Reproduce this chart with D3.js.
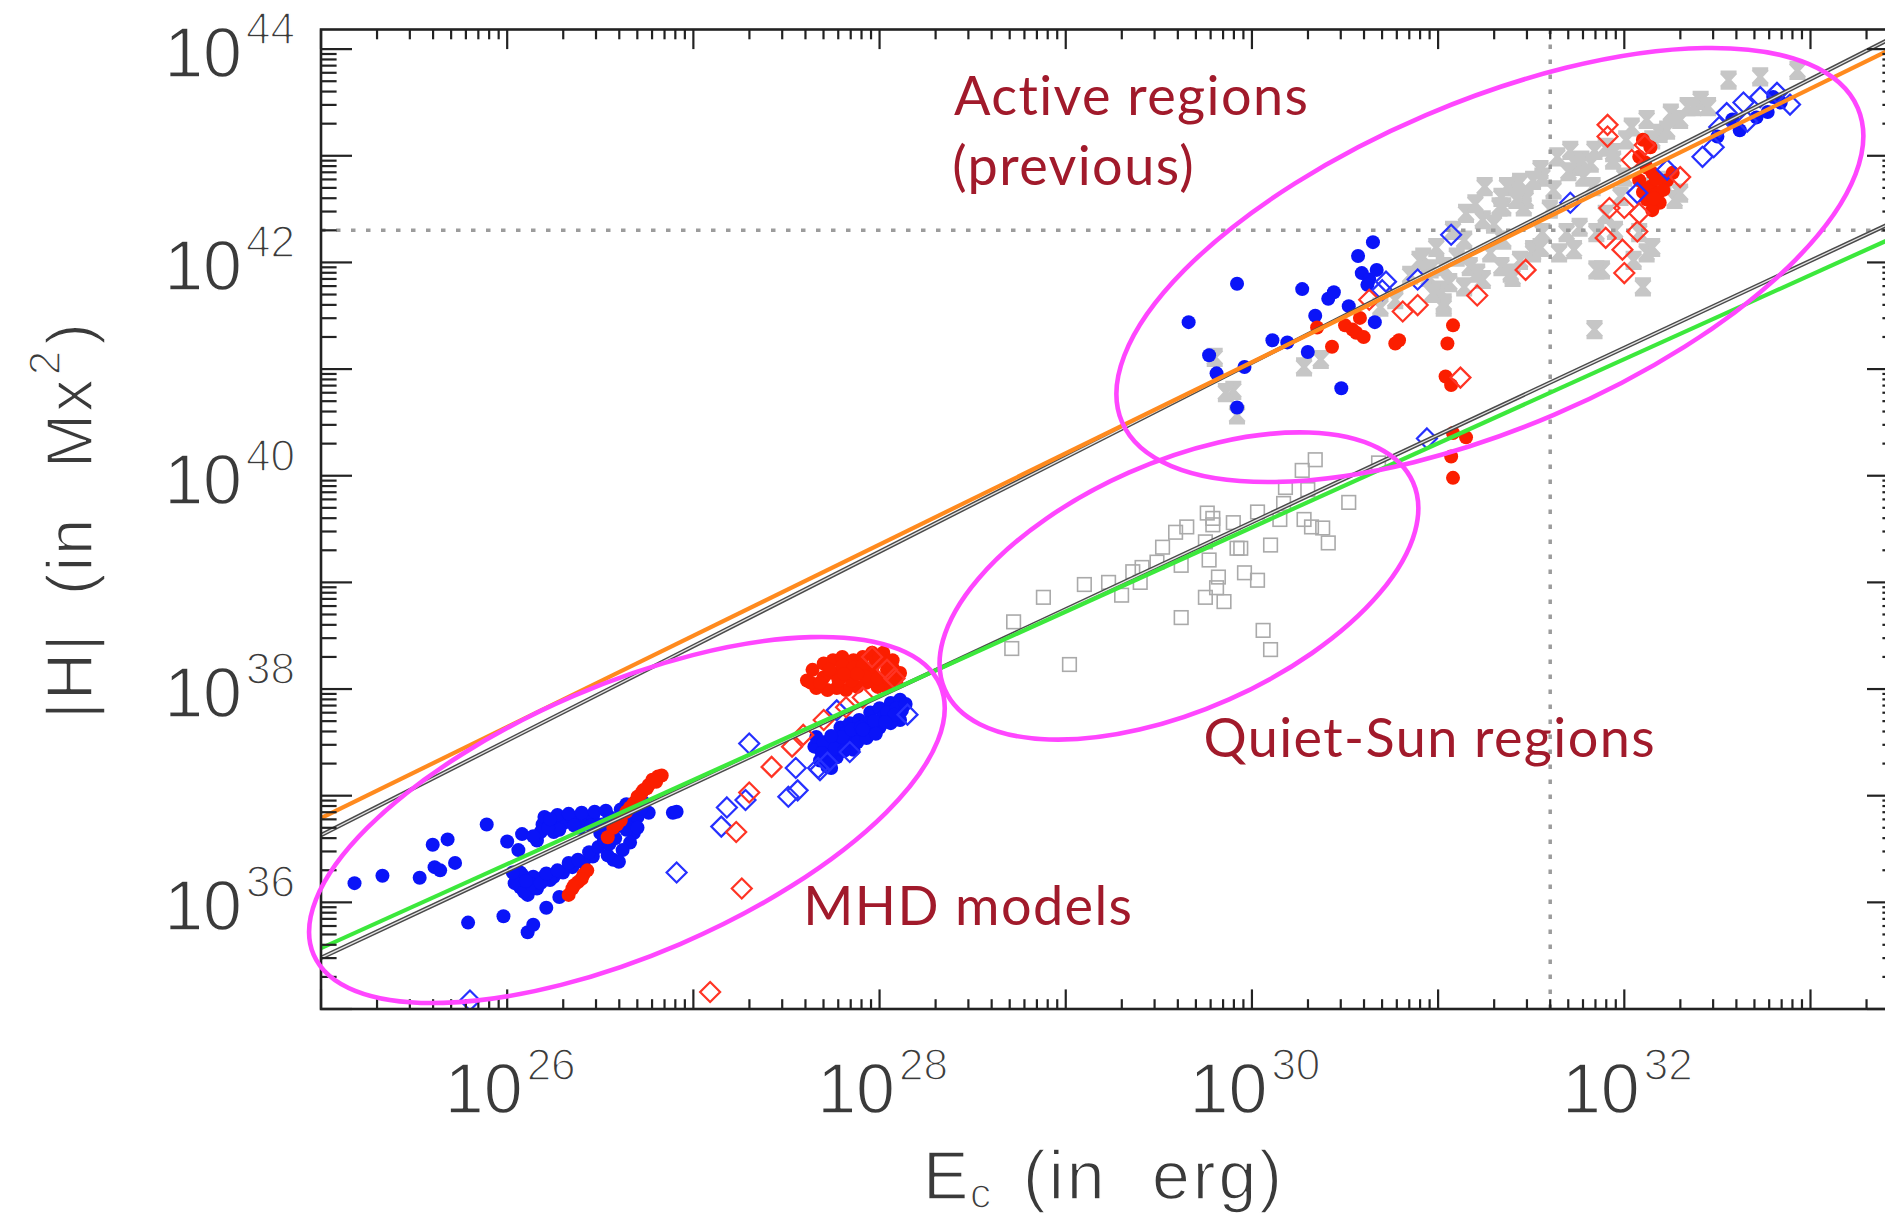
<!DOCTYPE html>
<html>
<head>
<meta charset="utf-8">
<script src="https://cdn.jsdelivr.net/npm/d3@7"></script>
<style>
  html, body { margin: 0; padding: 0; background: #ffffff; }
  svg { display: block; }
</style>
</head>
<body>
<svg id="chart" width="1885" height="1219"></svg>
<script>
// ---------------------------------------------------------------------------
// Magnetic helicity |H| versus free energy E_c.
// All samples are stored as [log10 E_c (erg), log10 |H| (Mx^2)].
// ---------------------------------------------------------------------------

// Axis decades and labelled exponents
const xDecades = [25, 26, 27, 28, 29, 30, 31, 32, 33];
const yDecades = [35, 36, 37, 38, 39, 40, 41, 42, 43, 44];
const xTickExponents = [26, 28, 30, 32];
const yTickExponents = [36, 38, 40, 42, 44];

// Reference levels (dotted guides)
const energyGuide = 4e31;     // erg
const helicityGuide = 2e42;   // Mx^2

// Power-law fits: log|H| = intercept + slope * log E
const fitOrange = { intercept: 15.415, slope: 0.855 };
const fitBlackUpper = { intercept: 14.48, slope: 0.886 };
const fitGreen = { intercept: 15.845, slope: 0.789 };
const fitBlackLower = { intercept: 15.055, slope: 0.817 };

// Filled blue circles (MHD runs + active regions)
const blueDots = [
  [25.18,36.18],[25.33,36.25],[25.53,36.23],[25.60,36.54],[25.68,36.59],[25.61,36.33],[25.64,36.30],
  [25.72,36.37],[25.89,36.73],[25.79,35.81],[25.98,35.87],[26.00,36.57],[26.08,36.64],[26.06,36.49],
  [26.11,35.72],[26.14,35.79],[26.21,35.95],[26.28,36.05],[26.89,36.84],[26.91,36.85],
  [26.16,36.58],[26.19,36.73],[26.25,36.75],[26.30,36.74],[26.35,36.79],[26.41,36.77],[26.46,36.79],
  [26.51,36.73],[26.55,36.80],[26.61,36.87],[26.68,36.93],[26.73,36.94],[26.76,36.84],[26.66,36.77],
  [26.68,36.65],[26.66,36.56],[26.62,36.49],[26.57,36.40],[26.60,36.38],[26.54,36.44],[26.46,36.43],
  [26.41,36.37],[26.35,36.33],[26.30,36.28],[26.25,36.24],[26.19,36.23],[26.14,36.24],[26.08,36.26],
  [26.05,36.23],[26.07,36.14],[26.11,36.07],[26.16,36.13],[26.23,36.21],[26.07,36.28],[26.18,36.66],
  [26.25,36.66],[26.28,36.68],[26.39,36.70],[26.50,36.65],[26.57,36.68],
  [26.04,36.18],[26.09,36.10],[26.13,36.17],[26.18,36.18],[26.10,36.20],[26.03,36.28],[26.21,36.27],
  [26.27,36.30],[26.33,36.37],[26.38,36.40],[26.44,36.47],[26.49,36.52],[26.52,36.58],[26.55,36.55],
  [26.58,36.60],[26.20,36.80],[26.27,36.82],[26.33,36.83],[26.40,36.84],[26.47,36.85],[26.53,36.86],
  [26.22,36.70],[26.36,36.72],[26.45,36.72],[26.60,36.72],[26.64,36.68],[26.70,36.80],[26.72,36.88],
  [26.14,36.62],[26.23,36.78],[26.64,36.92],[26.70,36.70],
  [27.65,37.46],[27.68,37.33],[27.72,37.27],[27.71,37.41],[27.75,37.52],[27.79,37.64],[27.84,37.68],
  [27.89,37.71],[27.95,37.78],[28.00,37.82],[28.06,37.87],[28.11,37.90],[28.12,37.80],[28.11,37.71],
  [28.06,37.68],[28.00,37.64],[27.95,37.60],[27.89,37.57],[27.84,37.52],[27.79,37.48],[27.82,37.59],
  [27.93,37.68],[28.02,37.74],[27.86,37.43],[27.77,37.36],[27.74,37.26],[27.66,37.55],
  [27.70,37.50],[27.73,37.35],[27.76,37.44],[27.80,37.55],[27.85,37.62],[27.90,37.64],[27.97,37.70],
  [28.04,37.78],[28.09,37.82],[27.81,37.42],[27.88,37.50],[27.93,37.54],[27.98,37.58],[28.08,37.76],
  [28.14,37.86],[27.69,37.40],[27.74,37.56],[27.91,37.62],[28.03,37.69],
  [29.66,41.44],[29.92,41.80],[29.77,41.13],[29.81,40.96],[29.96,41.02],[29.92,40.64],[30.11,41.27],
  [30.19,41.25],[30.30,41.16],[30.27,41.75],[30.34,41.50],[30.41,41.66],[30.44,41.72],[30.48,40.82],
  [30.52,41.59],[30.57,42.06],[30.65,42.19],[30.59,41.90],[30.63,41.84],[30.67,41.93],[30.62,41.79],
  [30.66,41.44],
  [32.80,43.55],[32.84,43.50],[32.77,43.41],[32.71,43.36],[32.58,43.34],[32.62,43.24],[32.50,43.18]
];

// Filled red circles
const redDots = [
  [26.33,36.07],[26.35,36.13],[26.38,36.19],[26.41,36.26],[26.43,36.30],[26.54,36.61],[26.57,36.70],
  [26.61,36.77],[26.64,36.85],[26.68,36.93],[26.70,36.99],[26.73,37.05],[26.76,37.10],[26.78,37.15],
  [26.81,37.18],[26.83,37.19],[26.59,36.73],[26.66,36.89],[26.72,37.02],[26.75,37.07],[26.80,37.13],
  [26.36,36.16],[26.40,36.22],
  [27.61,38.08],[27.64,38.18],[27.70,38.24],[27.75,38.27],[27.80,38.30],[27.86,38.27],[27.91,38.30],
  [27.96,38.34],[28.02,38.34],[28.07,38.27],[28.11,38.15],[28.09,38.06],[28.04,38.02],[27.99,38.02],
  [27.93,38.06],[27.88,38.02],[27.82,37.99],[27.77,38.01],[27.72,37.99],[27.66,38.01],[27.63,38.06],
  [27.75,38.15],[27.84,38.15],[27.96,38.18],[28.04,38.18],[27.70,38.11],
  [27.68,38.06],[27.73,38.18],[27.80,38.22],[27.86,38.20],[27.91,38.22],[27.98,38.26],[28.03,38.26],
  [28.07,38.20],[27.78,38.08],[27.85,38.08],[27.92,38.12],[27.99,38.10],[28.05,38.10],[27.81,38.14],
  [27.88,38.14],[28.00,38.30],
  [30.35,41.39],[30.43,41.21],[30.50,41.41],[30.54,41.37],[30.56,41.34],[30.60,41.30],[30.58,41.48],
  [30.77,41.24],[30.79,41.27],[31.08,41.41],[31.05,41.24],[31.04,40.93],[31.07,40.85],[31.08,40.40],
  [31.15,40.36],[31.07,40.18],[31.08,39.98],
  [32.10,43.15],[32.14,43.08],[32.08,42.99],[32.12,42.89],[32.15,42.84],[32.08,42.77],[32.14,42.71],
  [32.18,42.65],[32.12,42.59],[32.19,42.56],[32.15,42.49],[32.23,42.77],[32.26,42.84],[32.21,42.68],
  [32.11,42.94],[32.17,42.78],[32.10,42.66],[32.16,42.60]
];

// Open blue diamonds
const blueDiamonds = [
  [27.30,37.49],[27.55,37.26],[27.51,36.99],[27.56,37.05],[27.18,36.89],[27.28,36.96],[27.15,36.71],
  [26.91,36.28],[27.77,37.80],[27.84,37.41],[28.15,37.76],[27.67,37.26],[27.72,37.31],[27.68,37.24],
  [25.80,35.08],
  [32.42,42.99],[32.48,43.08],[32.55,43.40],[32.64,43.50],[32.73,43.55],[32.82,43.59],[32.51,43.27],
  [32.66,43.32],[32.89,43.48],[31.07,42.26],[30.89,41.84],[30.72,41.82],[30.70,41.74],[30.94,40.35],
  [31.71,42.56],[32.07,42.65],[32.23,42.87]
];

// Open red diamonds
const redDiamonds = [
  [27.42,37.27],[27.30,37.03],[27.23,36.66],[27.26,36.13],[27.09,35.16],[27.53,37.46],[27.59,37.57],
  [27.70,37.71],[27.82,37.83],[27.91,37.92],[27.96,38.30],[28.04,38.18],[28.08,38.10],
  [30.63,41.65],[30.81,41.54],[30.89,41.60],[31.21,41.69],[31.47,41.93],[31.12,40.92],[31.91,43.29],
  [31.91,43.18],[31.92,42.51],[32.00,42.51],[32.08,42.46],[31.90,42.23],[31.99,42.12],[32.07,42.29],
  [32.00,41.90],[32.30,42.80],[32.11,43.10],[32.04,42.96]
];

// Grey asterisks: earlier active-region samples
const grayStars = [
  [29.90,40.80],[30.37,41.09],[30.28,41.02],[30.69,41.58],[30.92,42.05],[30.99,42.14],[31.03,41.96],
  [31.06,41.81],[31.03,41.62],[31.17,41.96],[31.24,41.84],[31.28,42.09],[31.35,42.21],[31.40,41.86],
  [31.51,42.12],[31.56,42.28],[31.35,42.52],[31.46,42.52],[31.24,42.40],[31.15,42.46],[30.90,42.02],
  [30.95,41.86],[31.01,41.74],[31.03,41.58],[31.14,42.21],[31.25,42.71],[31.34,42.61],[31.40,42.71],
  [31.47,42.59],[31.56,42.80],[31.64,42.99],[31.71,43.05],[31.77,42.96],[31.84,43.05],[31.90,43.08],
  [31.94,42.96],[32.04,43.27],[32.12,43.34],[32.19,43.21],[32.25,43.40],[32.34,43.46],[32.41,43.52],
  [32.56,43.71],[32.73,43.74],[32.93,43.80],[32.16,42.71],[32.27,42.59],[31.95,42.30],[32.08,42.28],
  [31.88,41.93],[32.12,42.09],[32.10,41.77],[31.84,41.37],[31.69,42.28],[31.73,42.12],[31.51,42.09],
  [31.34,41.96],[31.21,41.90],[31.14,41.77],[32.37,43.46],[32.30,43.34],[32.23,43.24],[32.15,43.15],
  [32.01,43.15],[31.94,43.03],[31.82,42.93],[31.75,42.90],[31.55,42.87],[31.51,42.77],[31.44,42.75],
  [31.37,42.71],[31.42,42.59],[31.33,42.52],[31.78,42.80],[31.62,42.68],[31.83,42.71],[31.76,42.33],
  [31.85,42.28],[31.55,42.14],[31.44,42.02],[31.39,41.90],[31.65,42.09],[31.85,41.93],[32.05,42.02],
  [32.15,42.14],[32.30,42.65],[32.21,42.77],[32.45,43.46],[29.86,40.78],[29.92,40.57],[29.80,41.11],
  [30.97,41.71],[30.77,41.65],[30.85,41.88],[31.08,42.30],[31.20,42.55],[31.30,42.36],[31.60,42.50],
  [31.70,42.85],[31.90,42.45],[32.00,42.80],[31.98,42.62],[31.10,42.05],[30.96,41.94]
];

// Open grey squares: quiet-Sun regions
const graySquares = [
  [28.72,38.63],[28.71,38.38],[28.88,38.86],[29.02,38.23],[29.10,38.98],[29.23,39.00],[29.30,38.88],
  [29.36,39.10],[29.41,39.14],[29.40,39.00],[29.49,39.19],[29.52,39.33],[29.59,39.47],[29.65,39.52],
  [29.62,39.16],[29.62,38.67],[29.76,39.65],[29.79,39.60],[29.79,39.54],[29.90,39.56],[29.75,39.38],
  [29.77,39.21],[29.82,39.05],[29.81,38.95],[29.75,38.86],[29.85,38.82],[29.92,39.32],[29.94,39.32],
  [29.96,39.09],[30.03,39.02],[30.03,39.66],[30.10,39.35],[30.06,38.55],[30.10,38.37],[30.15,39.59],
  [30.17,39.74],[30.18,39.89],[30.27,40.05],[30.34,40.15],[30.30,39.87],[30.32,39.52],[30.38,39.51],
  [30.41,39.37],[30.52,39.75],[30.68,40.12],[30.28,39.59]
];

// Region outlines: centre in [log E, log H]; shape in screen units
const regionOutlines = [
  { center: [31.278, 41.976], rx: 400, ry: 163, angle: -23.1 },
  { center: [29.608, 38.966], rx: 256, ry: 124, angle: -23.9 },
  { center: [26.643, 36.772], rx: 341, ry: 135, angle: -23.25 }
];

// Region captions: baseline start in [log E, log H]
const regionCaptions = [
  { text: "Active regions", at: [28.40, 43.383] },
  { text: "(previous)", at: [28.39, 42.726] },
  { text: "Quiet-Sun regions", at: [29.74, 37.363] },
  { text: "MHD models", at: [27.59, 35.788] }
];

// ---------------------------------------------------------------------------
const svg = d3.select("#chart");
const frame = { left: 321, right: 1898, top: 29.5, bottom: 1009 };
const xMaxExp = 33.47, yMaxExp = 44.184;

const x = d3.scaleLog().domain([1e25, Math.pow(10, xMaxExp)]).range([frame.left, frame.right]);
const y = d3.scaleLog().domain([1e35, Math.pow(10, yMaxExp)]).range([frame.bottom, frame.top]);
const px = d => x(Math.pow(10, d[0]));
const py = d => y(Math.pow(10, d[1]));

svg.append("defs").append("clipPath").attr("id", "plotClip")
  .append("rect")
  .attr("x", frame.left).attr("y", frame.top)
  .attr("width", frame.right - frame.left).attr("height", frame.bottom - frame.top);

const plotG = svg.append("g").attr("clip-path", "url(#plotClip)");

// Quiet-Sun squares
plotG.append("g").selectAll("rect").data(graySquares).join("rect")
  .attr("x", d => px(d) - 6.8).attr("y", d => py(d) - 6.8)
  .attr("width", 13.6).attr("height", 13.6)
  .attr("fill", "none").attr("stroke", "#aaaaaa").attr("stroke-width", 1.6);

// Earlier active-region asterisks
const starPath = "M-8,-7.5H8M-8,7.5H8M-7,-7.5L7,7.5M7,-7.5L-7,7.5M0,-7.5V7.5";
plotG.append("g").selectAll("path").data(grayStars).join("path")
  .attr("transform", d => `translate(${px(d)},${py(d)})`)
  .attr("d", starPath)
  .attr("fill", "none").attr("stroke", "#c6c6c6").attr("stroke-width", 4.2);

// Dotted guides
plotG.append("line")
  .attr("x1", frame.left).attr("x2", frame.right)
  .attr("y1", y(helicityGuide)).attr("y2", y(helicityGuide))
  .attr("stroke", "#9c9c9c").attr("stroke-width", 3.5).attr("stroke-dasharray", "4.5 10.5");
plotG.append("line")
  .attr("x1", x(energyGuide)).attr("x2", x(energyGuide))
  .attr("y1", frame.top).attr("y2", frame.bottom)
  .attr("stroke", "#9c9c9c").attr("stroke-width", 3.5).attr("stroke-dasharray", "4.5 10.5");

// Filled circles
plotG.append("g").selectAll("circle").data(blueDots).join("circle")
  .attr("cx", px).attr("cy", py).attr("r", 7).attr("fill", "#0a14f8");
plotG.append("g").selectAll("circle").data(redDots).join("circle")
  .attr("cx", px).attr("cy", py).attr("r", 7).attr("fill", "#fb1e00");

// Open diamonds
const diamondPath = "M0,-10L10,0L0,10L-10,0Z";
plotG.append("g").selectAll("path").data(blueDiamonds).join("path")
  .attr("transform", d => `translate(${px(d)},${py(d)})`)
  .attr("d", diamondPath)
  .attr("fill", "none").attr("stroke", "#2630ff").attr("stroke-width", 2.2);
plotG.append("g").selectAll("path").data(redDiamonds).join("path")
  .attr("transform", d => `translate(${px(d)},${py(d)})`)
  .attr("d", diamondPath)
  .attr("fill", "none").attr("stroke", "#ff3424").attr("stroke-width", 2.2);

// Power-law fits
const fitLine = d3.line().x(d => x(d[0])).y(d => y(d[1]));
function fitPoints(fit) {
  return [25, xMaxExp].map(e => [Math.pow(10, e), Math.pow(10, fit.intercept + fit.slope * e)]);
}
function drawDoubleLine(fit) {
  plotG.append("path").attr("d", fitLine(fitPoints(fit)))
    .attr("fill", "none").attr("stroke", "#4a4a4a").attr("stroke-width", 4.2);
  plotG.append("path").attr("d", fitLine(fitPoints(fit)))
    .attr("fill", "none").attr("stroke", "#e4e4e4").attr("stroke-width", 1.3);
}
drawDoubleLine(fitBlackUpper);
drawDoubleLine(fitBlackLower);
plotG.append("path").attr("d", fitLine(fitPoints(fitOrange)))
  .attr("fill", "none").attr("stroke", "#ff8a1e").attr("stroke-width", 4.2);
plotG.append("path").attr("d", fitLine(fitPoints(fitGreen)))
  .attr("fill", "none").attr("stroke", "#3ce83c").attr("stroke-width", 4.2);

// Frame and ticks
const axisG = svg.append("g").attr("stroke", "#222").attr("fill", "none");
axisG.append("rect")
  .attr("x", frame.left).attr("y", frame.top)
  .attr("width", frame.right - frame.left).attr("height", frame.bottom - frame.top)
  .attr("stroke-width", 2.6);

const xTickMajor = 19.6, xTickMinor = 9.8, yTickMajor = 31, yTickMinor = 15.6;
const xTicks = [], yTicks = [];
xDecades.forEach(e => d3.range(1, 10).forEach(m => {
  const v = m * Math.pow(10, e);
  if (v >= x.domain()[0] && v <= x.domain()[1]) xTicks.push({ v, major: m === 1 });
}));
yDecades.forEach(e => d3.range(1, 10).forEach(m => {
  const v = m * Math.pow(10, e);
  if (v >= y.domain()[0] && v <= y.domain()[1]) yTicks.push({ v, major: m === 1 });
}));

xTicks.forEach(t => {
  const len = t.major ? xTickMajor : xTickMinor;
  const xx = x(t.v);
  axisG.append("line").attr("x1", xx).attr("x2", xx).attr("y1", frame.bottom).attr("y2", frame.bottom - len).attr("stroke-width", 2.2);
  axisG.append("line").attr("x1", xx).attr("x2", xx).attr("y1", frame.top).attr("y2", frame.top + len).attr("stroke-width", 2.2);
});
yTicks.forEach(t => {
  const len = t.major ? yTickMajor : yTickMinor;
  const yy = y(t.v);
  axisG.append("line").attr("y1", yy).attr("y2", yy).attr("x1", frame.left).attr("x2", frame.left + len).attr("stroke-width", 2.2);
  axisG.append("line").attr("y1", yy).attr("y2", yy).attr("x1", frame.right).attr("x2", frame.right - len).attr("stroke-width", 2.2);
});

// Tick labels (thin strokes: a white outline trims the glyphs)
const tickFont = "'Liberation Sans', Arial, Helvetica, sans-serif";
const labelG = svg.append("g")
  .attr("font-family", tickFont).attr("fill", "#3a3a3a")
  .attr("stroke", "#ffffff").attr("stroke-width", 1.5).attr("stroke-linejoin", "round");
xTickExponents.forEach(e => {
  const t = labelG.append("text")
    .attr("x", x(Math.pow(10, e)) + 3).attr("y", 1113)
    .attr("text-anchor", "middle").attr("font-size", 70);
  t.append("tspan").text("10");
  t.append("tspan").attr("dy", -33).attr("dx", 4).attr("font-size", 44).text(e);
});
yTickExponents.forEach(e => {
  const t = labelG.append("text")
    .attr("x", 295).attr("y", y(Math.pow(10, e)) + 28)
    .attr("text-anchor", "end").attr("font-size", 70);
  t.append("tspan").text("10");
  t.append("tspan").attr("dy", -33).attr("dx", 4).attr("font-size", 44).text(e);
});

// Axis titles
const xTitle = labelG.append("text").attr("y", 1199).attr("font-size", 68).attr("letter-spacing", 3);
xTitle.append("tspan").attr("x", 923).text("E");
xTitle.append("tspan").attr("x", 970).attr("dy", 9).attr("font-size", 42).text("c");
xTitle.append("tspan").attr("x", 1023).attr("dy", -9).text("(in");
xTitle.append("tspan").attr("x", 1152).text("erg)");

const yTitle = labelG.append("text")
  .attr("transform", "translate(92,519) rotate(-90)")
  .attr("font-size", 65).attr("letter-spacing", 2);
yTitle.append("tspan").attr("x", -200).text("|H|");
yTitle.append("tspan").attr("x", -76).text("(in");
yTitle.append("tspan").attr("x", 51).text("Mx");
yTitle.append("tspan").attr("dx", 2).attr("dy", -32).attr("font-size", 44).text("2");
yTitle.append("tspan").attr("dx", 4).attr("dy", 32).text(")");

// Region outlines
svg.append("g").selectAll("ellipse").data(regionOutlines).join("ellipse")
  .attr("transform", d => `translate(${px(d.center)},${py(d.center)}) rotate(${d.angle})`)
  .attr("rx", d => d.rx).attr("ry", d => d.ry)
  .attr("fill", "none").attr("stroke", "#ff46ff").attr("stroke-width", 4.6);

// Region captions
svg.append("g").selectAll("text").data(regionCaptions).join("text")
  .attr("x", d => px(d.at)).attr("y", d => py(d.at))
  .attr("font-family", "Lato, 'Open Sans', sans-serif")
  .attr("font-size", 54).attr("letter-spacing", 1.4).attr("fill", "#a11a2b")
  .text(d => d.text);
</script>
</body>
</html>
